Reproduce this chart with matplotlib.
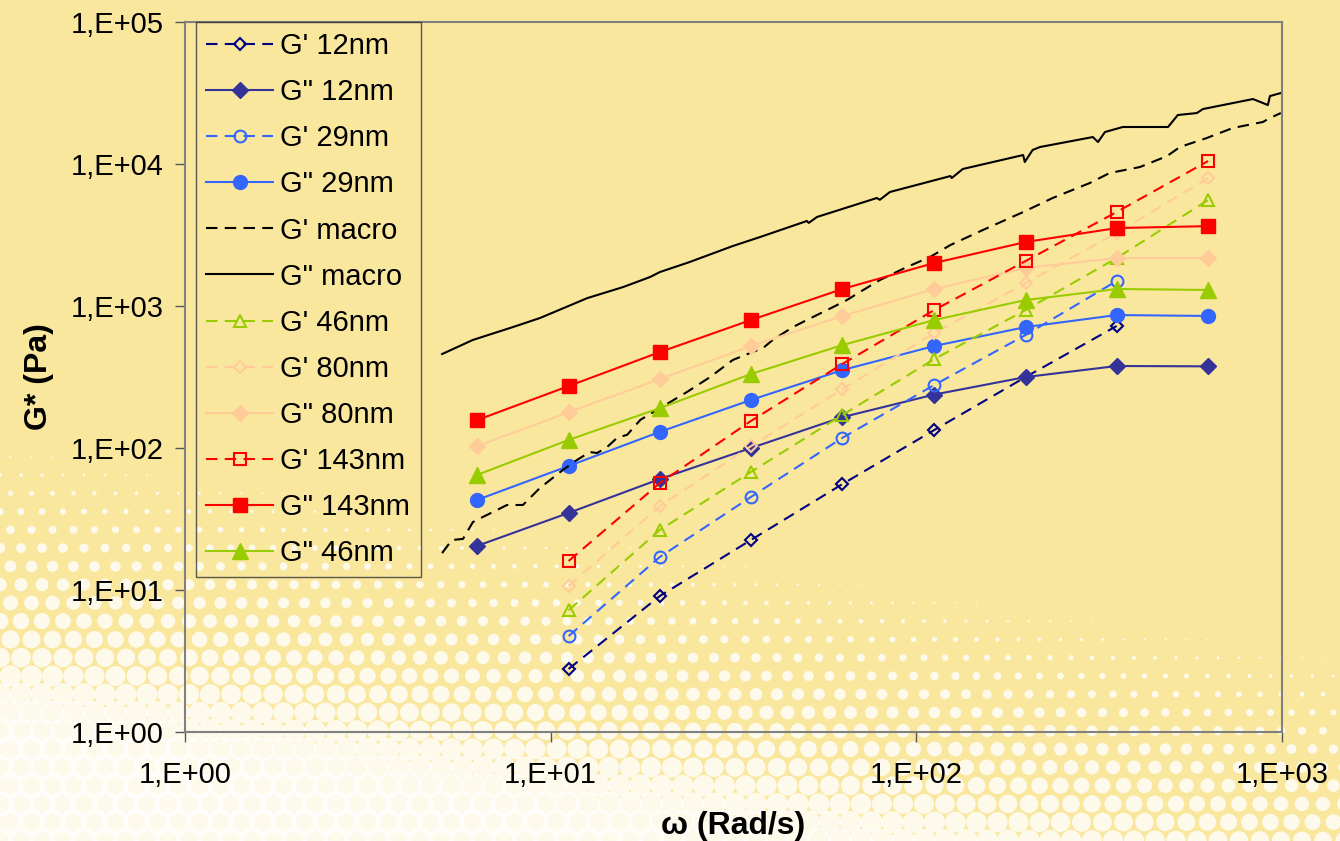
import numpy as np
import matplotlib
matplotlib.use('Agg')
from matplotlib import pyplot as plt
from matplotlib.ticker import FuncFormatter, LogLocator, NullLocator

plt.rcParams['font.family'] = ['Liberation Sans', 'DejaVu Sans']

# Angular frequency of the discrete measurements (rad/s)
omega = [6.28, 11.2, 19.9, 35.3, 62.8, 112, 199, 353, 628]

# Nanoparticle series (None = no measurement)
gp_12 = [None, 2.78, 9.08, 22.5, 55.7, 134, 316, 723, None]
gpp_12 = [20.4, 34.9, 60.5, 100, 165, 238, 316, 378, 376]
gp_29 = [None, 4.74, 17.1, 45.2, 118, 278, 625, 1500, None]
gpp_29 = [43, 74.7, 130, 218, 354, 523, 711, 864, 851]
gp_46 = [None, 7.2, 26.5, 67.8, 171, 423, 937, 2177, 5575]
gpp_46 = [64.5, 114, 191, 332, 531, 797, 1102, 1318, 1297]
gp_80 = [None, 10.7, 39, 103, 260, 645, 1452, 3266, 7966]
gpp_80 = [103, 179, 306, 523, 851, 1318, 1853, 2177, 2177]
gp_143 = [None, 16.0, 56.7, 155, 391, 937, 2074, 4590, 10500]
gpp_143 = [157, 273, 474, 797, 1318, 2010, 2823, 3540, 3653]

# Macroscopic rheometer sweep
macro_gp_w = [5.05, 5.37, 5.76, 6.02, 6.13, 6.53, 7.60, 8.40, 8.78, 9.35, 10.8, 11.8,
              12.8, 13.4, 14.3, 15.2, 16.2, 17.6, 23.6, 27.3, 31.5, 35.7, 38.1, 40.5,
              46.0, 50.2, 59.2, 64.6, 70.1, 79.5, 94.3, 109, 124, 152, 196, 236, 298,
              338, 409, 485, 526, 623, 734, 887, 927, 993]
macro_gp = [18.2, 22.5, 22.9, 27.8, 30.1, 32.7, 39.7, 39.7, 44.5, 52.3, 70.0, 82.3,
            93.7, 92.2, 102, 118, 124, 158, 248, 316, 417, 475, 506, 577,
            711, 797, 983, 1102, 1255, 1524, 1884, 2213, 2690, 3428, 4590, 5764, 7347,
            8650, 9528, 11380, 13180, 15250, 17940, 19780, 21100, 22860]
macro_gpp_w = [5.05, 6.13, 7.89, 9.35, 12.6, 15.8, 18.7, 19.9, 24.0, 31.5, 37.4, 50.2,
               50.8, 53.5, 78.0, 79.5, 84.7, 124, 125, 134, 196, 198, 208, 218, 304,
               314, 328, 367, 488, 519, 585, 608, 833, 887, 915, 927, 993]
macro_gpp = [459, 577, 711, 823, 1137, 1361, 1600, 1735, 2041, 2646, 3062, 3970,
             3850, 4236, 5764, 5600, 6355, 8230, 7966, 9226, 11570, 10330, 12560, 13180, 15490,
             14290, 16800, 18230, 18230, 22140, 22860, 24390, 28690, 26900, 26020, 30110, 31620]

fig = plt.figure(figsize=(13.4, 8.41), dpi=100)
fig.patch.set_facecolor('#FAE79E')

# Halftone backdrop (decoration only)
bg = fig.add_axes([0, 0, 1, 1], zorder=-10)
bg.set_xlim(0, 1340)
bg.set_ylim(841, 0)
bg.axis('off')
sp = 21.0
gx, gy = np.meshgrid(np.arange(0, 1360, sp), np.arange(0, 860, sp * 0.87))
gx = gx + (np.arange(gx.shape[0])[:, None] % 2) * sp / 2
t = np.clip((gy - (430 + 0.16 * gx)) / 300.0, 0, 1)
keep = t > 0.02
diam = t[keep] * sp * 1.25
bg.scatter(gx[keep], gy[keep], s=(diam * 0.72) ** 2, c='#FFFFFF', alpha=0.8,
           linewidths=0, marker='o')

ax = fig.add_axes([0.138, 0.1296, 0.8187, 0.8442])
ax.set_facecolor('none')
ax.set_xscale('log')
ax.set_yscale('log')


def pts(vals):
    return [np.nan if v is None else v for v in vals]


ms = 10
dash = (5.5, 3.5)
ax.plot(omega, pts(gp_12), color='#000080', ls='--', dashes=dash, lw=1.5, marker='D', ms=6.5,
        mfc='none', mec='#000080', mew=1.5, label="G' 12nm")
ax.plot(omega, gpp_12, color='#333399', lw=1.5, marker='D', ms=8, label='G" 12nm')
ax.plot(omega, pts(gp_29), color='#3366FF', ls='--', dashes=dash, lw=1.5, marker='o', ms=8.5,
        mfc='none', mec='#3366FF', mew=1.5, label="G' 29nm")
ax.plot(omega, gpp_29, color='#3366FF', lw=1.5, marker='o', ms=ms, label='G" 29nm')
ax.plot(macro_gp_w, macro_gp, color='black', ls='--', dashes=dash, lw=1.5, label="G' macro")
ax.plot(macro_gpp_w, macro_gpp, color='black', lw=1.5, label='G" macro')
ax.plot(omega, pts(gp_46), color='#99CC00', ls='--', dashes=dash, lw=1.5, marker='^', ms=9,
        mfc='none', mec='#99CC00', mew=1.5, label="G' 46nm")
ax.plot(omega, pts(gp_80), color='#FFCC99', ls='--', dashes=dash, lw=1.5, marker='D', ms=6.5,
        mfc='none', mec='#FFCC99', mew=1.5, label="G' 80nm")
ax.plot(omega, gpp_80, color='#FFCC99', lw=1.5, marker='D', ms=8, label='G" 80nm')
ax.plot(omega, pts(gp_143), color='#FF0000', ls='--', dashes=dash, lw=1.5, marker='s', ms=9,
        mfc='none', mec='#FF0000', mew=1.5, label="G' 143nm")
ax.plot(omega, gpp_143, color='#FF0000', lw=1.5, marker='s', ms=ms, label='G" 143nm')
ax.plot(omega, gpp_46, color='#99CC00', lw=1.5, marker='^', ms=ms + 1, label='G" 46nm')

ax.set_xlim(1, 1000)
ax.set_ylim(1, 1e5)

fmt = FuncFormatter(lambda v, p: '1,E+%02d' % int(round(np.log10(v))))
ax.xaxis.set_major_locator(LogLocator(base=10, numticks=10))
ax.yaxis.set_major_locator(LogLocator(base=10, numticks=10))
ax.xaxis.set_minor_locator(NullLocator())
ax.yaxis.set_minor_locator(NullLocator())
ax.xaxis.set_major_formatter(fmt)
ax.yaxis.set_major_formatter(fmt)
ax.tick_params(axis='both', which='major', direction='out', length=7, width=1,
               color='#555555', labelsize=21)
ax.tick_params(axis='x', pad=14)
ax.tick_params(axis='y', pad=8)
for s in ax.spines.values():
    s.set_color('#808080')
    s.set_linewidth(1.5)

ax.set_xlabel(u'\u03c9 (Rad/s)', fontsize=23, fontweight='bold', labelpad=16)
ax.set_ylabel('G* (Pa)', fontsize=23, fontweight='bold', labelpad=12)

leg = ax.legend(loc='upper left', bbox_to_anchor=(0.01, 1.0), fontsize=21, frameon=True,
                fancybox=False, handlelength=2.3, labelspacing=0.62, borderpad=0.35,
                handletextpad=0.25, borderaxespad=0)
leg.get_frame().set_facecolor('none')
leg.get_frame().set_edgecolor('#333333')
leg.get_frame().set_linewidth(1.0)

fig.savefig('out.png', dpi=100)
